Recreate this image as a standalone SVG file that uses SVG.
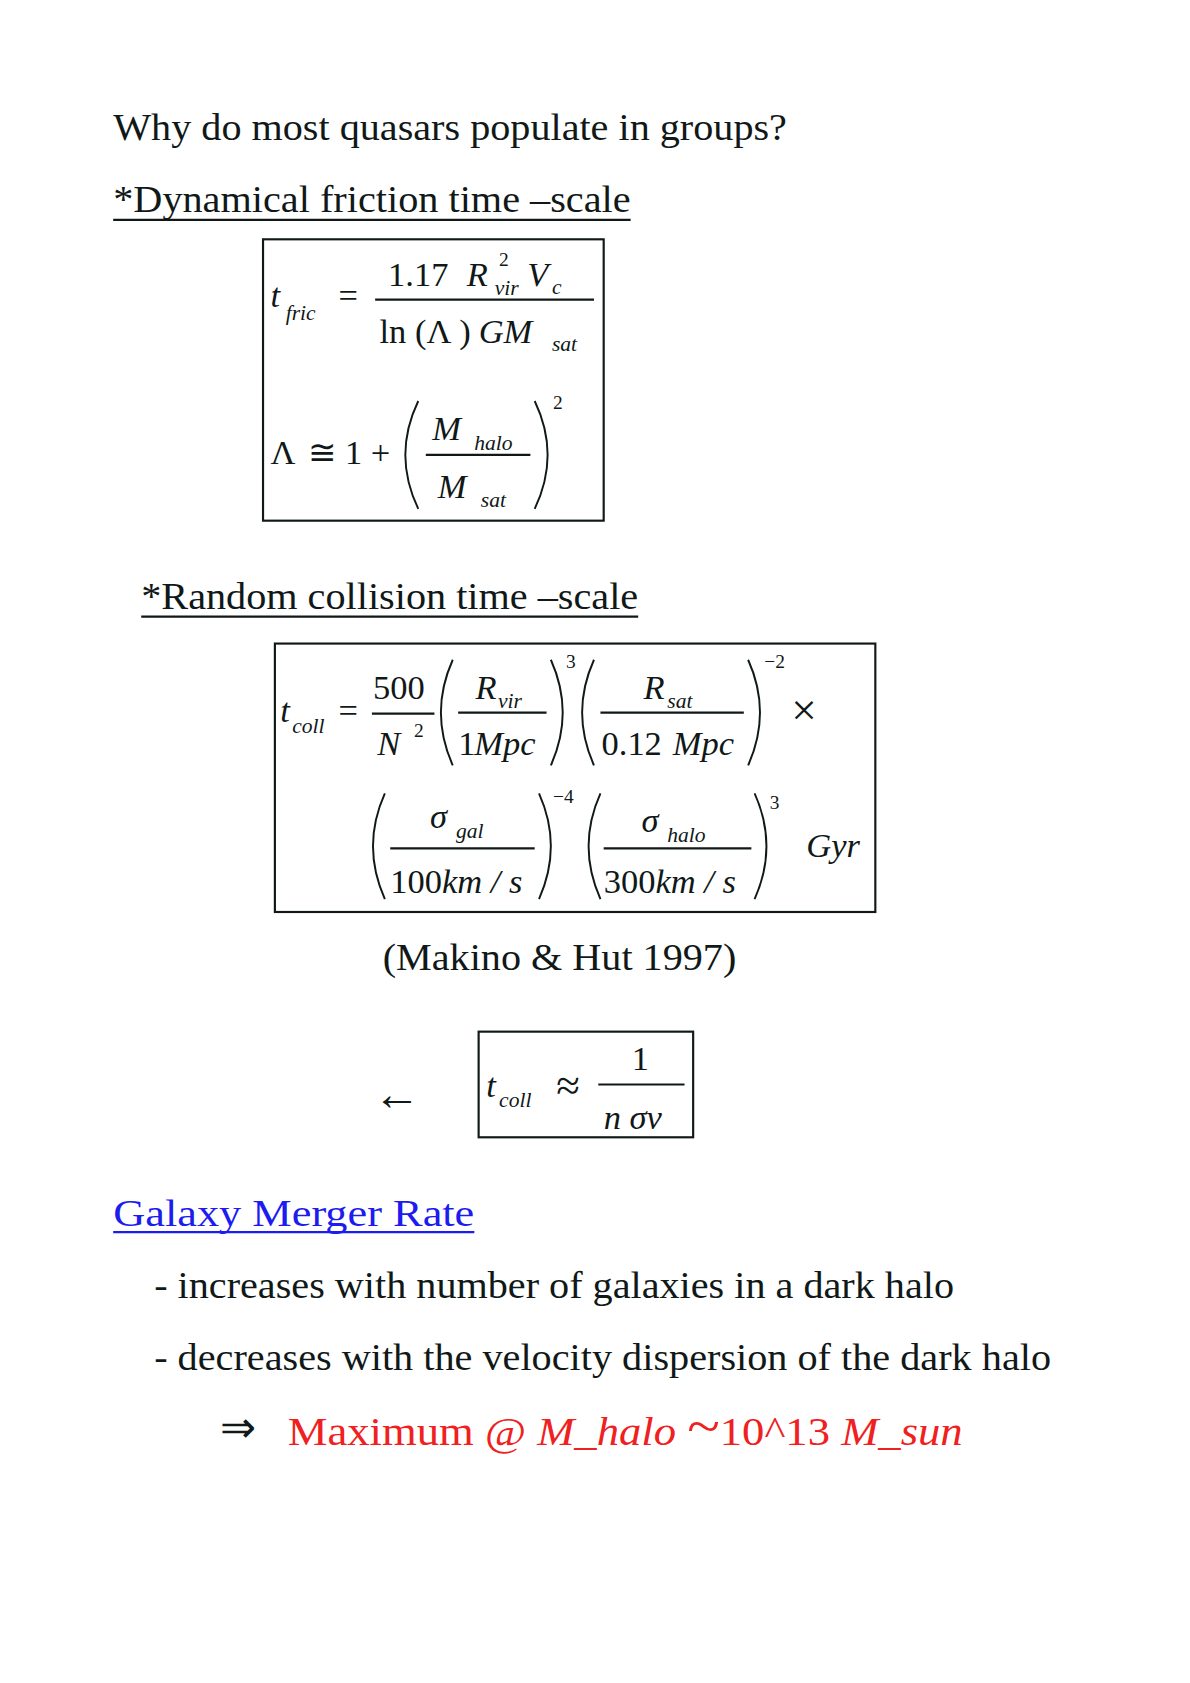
<svg xmlns="http://www.w3.org/2000/svg" width="1190" height="1683" viewBox="0 0 1190 1683">
<style>
text{font-family:"Liberation Serif","Times New Roman",serif;fill:#101818}
.h{font-size:35px}
.m{font-size:32px}
.i{font-style:italic}
.s{font-size:20px;font-style:italic}
.sup{font-size:18px}
.ln{stroke:#101818;stroke-width:2;fill:none}
.box{stroke:#101818;stroke-width:2;fill:none}
.p{stroke:#101818;stroke-width:1.8;fill:none}
</style>
<rect width="1190" height="1683" fill="#fff"/>
<g transform="scale(1.078)">
<g id="title"><text class="h" x="105" y="130" textLength="625" lengthAdjust="spacingAndGlyphs">Why do most quasars populate in groups?</text></g>
<g id="dyn-heading"><text class="h" x="105" y="197" textLength="480" lengthAdjust="spacingAndGlyphs">*Dynamical friction time –scale</text><line class="ln" x1="105" y1="204" x2="585" y2="204"/></g>
<g id="box-fric">
<rect class="box" x="244" y="222" width="316" height="261"/>
<text class="m i" x="251" y="285">t</text><text class="s" x="265" y="297">fric</text>
<text class="m" x="314" y="285">=</text>
<text class="m" x="360" y="265">1.17</text><text class="m i" x="433" y="265">R</text><text class="sup" x="463" y="247">2</text><text class="s" x="459" y="274">vir</text><text class="m i" x="489" y="265">V</text><text class="s" x="512" y="273">c</text>
<line class="ln" x1="348" y1="278" x2="551" y2="278"/>
<text class="m" x="352" y="318">ln</text><text class="m" x="385" y="318">(Λ )</text><text class="m i" x="444" y="318">GM</text><text class="s" x="512" y="326">sat</text>
<text class="m" x="251" y="430">Λ</text><text class="m" x="286" y="430">≅ 1 +</text>
<path class="p" d="M388 372 Q364 422 388 472"/>
<text class="m i" x="401" y="408">M</text><text class="s" x="440" y="417">halo</text>
<line class="ln" x1="395" y1="422" x2="492" y2="422"/>
<text class="m i" x="406" y="462">M</text><text class="s" x="446" y="470">sat</text>
<path class="p" d="M496 372 Q520 422 496 472"/>
<text class="sup" x="513" y="379">2</text>
</g>
<g id="coll-heading"><text class="h" x="131" y="565" textLength="461" lengthAdjust="spacingAndGlyphs">*Random collision time –scale</text><line class="ln" x1="131" y1="572" x2="592" y2="572"/></g>
<g id="box-coll">
<rect class="box" x="255" y="597" width="557" height="249"/>
<text class="m i" x="260" y="670">t</text><text class="s" x="271" y="680">coll</text>
<text class="m" x="314" y="670">=</text>
<text class="m" x="346" y="648">500</text><line class="ln" x1="345" y1="662" x2="403" y2="662"/>
<text class="m i" x="350" y="700">N</text><text class="sup" x="384" y="684">2</text>
<path class="p" d="M420 612 Q398 661 420 710"/>
<text class="m i" x="441" y="648">R</text><text class="s" x="462" y="657">vir</text>
<line class="ln" x1="425" y1="661" x2="507" y2="661"/>
<text class="m" x="425" y="700">1</text><text class="m i" x="440" y="700">Mpc</text>
<path class="p" d="M511 612 Q533 661 511 710"/>
<text class="sup" x="525" y="620">3</text>
<path class="p" d="M551 612 Q529 661 551 710"/>
<text class="m i" x="597" y="648">R</text><text class="s" x="619" y="657">sat</text>
<line class="ln" x1="557" y1="661" x2="690" y2="661"/>
<text class="m" x="558" y="700">0.12</text><text class="m i" x="624" y="700">Mpc</text>
<path class="p" d="M694 612 Q716 661 694 710"/>
<text class="sup" x="709" y="620">−2</text>
<text style="font-size:42px" x="734" y="673">×</text>
<path class="p" d="M357 736 Q335 785 357 834"/>
<text class="m i" x="399" y="768">σ</text><text class="s" x="423" y="777">gal</text>
<line class="ln" x1="362" y1="787" x2="496" y2="787"/>
<text class="m" x="362" y="828">100</text><text class="m i" x="410" y="828">km / s</text>
<path class="p" d="M500 736 Q522 785 500 834"/>
<text class="sup" x="513" y="745">−4</text>
<path class="p" d="M557 736 Q535 785 557 834"/>
<text class="m i" x="595" y="772">σ</text><text class="s" x="619" y="781">halo</text>
<line class="ln" x1="560" y1="787" x2="697" y2="787"/>
<text class="m" x="560" y="828">300</text><text class="m i" x="608" y="828">km / s</text>
<path class="p" d="M700 736 Q722 785 700 834"/>
<text class="sup" x="714" y="750">3</text>
<text class="m i" x="748" y="795">Gyr</text>
</g>
<g id="citation"><text class="h" x="355" y="900" textLength="328" lengthAdjust="spacingAndGlyphs">(Makino &amp; Hut 1997)</text></g>
<g id="arrow-left"><text style="font-size:44px" x="346" y="1030">←</text></g>
<g id="box-approx">
<rect class="box" x="444" y="957" width="199" height="98"/>
<text class="m i" x="451" y="1018">t</text><text class="s" x="463" y="1027">coll</text>
<text style="font-size:40px" x="516" y="1020">≈</text>
<text class="m" x="586" y="993">1</text>
<line class="ln" x1="555" y1="1006" x2="635" y2="1006"/>
<text class="m i" x="560" y="1047">n σv</text>
</g>
<g id="merger">
<text class="h" x="105" y="1137" style="fill:#1c1cf0" textLength="335" lengthAdjust="spacingAndGlyphs">Galaxy Merger Rate</text>
<line x1="105" y1="1143" x2="440" y2="1143" stroke="#1c1cf0" stroke-width="2"/>
<text class="h" x="143" y="1204" textLength="742" lengthAdjust="spacingAndGlyphs">- increases with number of galaxies in a dark halo</text>
<text class="h" x="143" y="1271" textLength="832" lengthAdjust="spacingAndGlyphs">- decreases with the velocity dispersion of the dark halo</text>
<text style="font-size:40px" x="204" y="1338">⇒</text>
<text style="font-size:37px;fill:#f02020" x="267" y="1340" textLength="626" lengthAdjust="spacingAndGlyphs">Maximum @ <tspan font-style="italic">M_halo</tspan>  <tspan font-size="50">~</tspan>10^13 <tspan font-style="italic">M_sun</tspan></text>
</g>
</g>
</svg>
